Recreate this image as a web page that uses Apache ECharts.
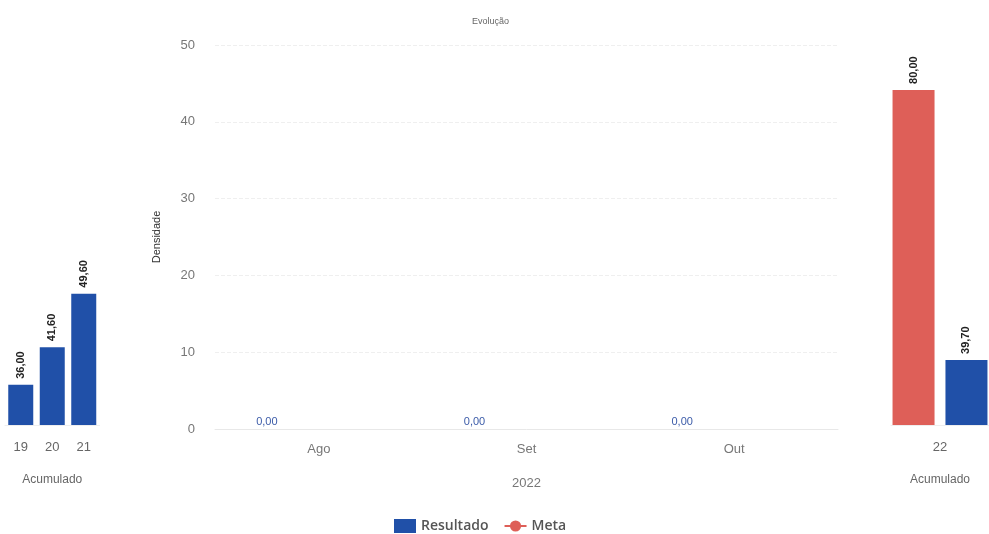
<!DOCTYPE html>
<html>
<head>
<meta charset="utf-8">
<script src="https://cdn.jsdelivr.net/npm/echarts@6/dist/echarts.min.js"></script>
<style>
html,body{margin:0;padding:0;background:#fff;}
#c{width:989px;height:534px;}
</style>
</head>
<body>
<div id="c"></div>
<script>
const leftCats = ['19', '20', '21'];
const leftResultado = [36.00, 41.60, 49.60];
const mainCats = ['Ago', 'Set', 'Out'];
const mainResultado = [0, 0, 0];
const mainMeta = ['-', '-', '-'];
const rightCats = ['22'];
const rightMeta = [80.00];
const rightResultado = [39.70];
const mainYTicks = [0, 10, 20, 30, 40, 50];

const BLUE = '#2050a8';
const RED = '#de5f58';
const fmt = v => v.toFixed(2).replace('.', ',');

const sideLabel = {
  show: true, position: 'top', rotate: 90, align: 'left', verticalAlign: 'middle',
  distance: 6, fontSize: 11, fontWeight: 'bold', color: '#222', fontFamily: 'Liberation Sans',
  formatter: p => fmt(p.value)
};

const chart = echarts.init(document.getElementById('c'));
chart.setOption({
  animation: false,
  textStyle: { fontFamily: 'Liberation Sans' },
  title: { text: 'Evolução', left: 467, top: 12, textStyle: { fontSize: 9, fontWeight: 'normal', color: '#666' } },
  legend: {
    left: 389, top: 514, itemWidth: 22, itemHeight: 14, itemGap: 15,
    textStyle: { fontSize: 14, fontWeight: 600, color: '#555', fontFamily: 'Open Sans' },
    data: [{ name: 'Resultado', icon: 'rect' }, { name: 'Meta' }]
  },
  grid: [
    { left: 5, width: 94.5, top: 45, bottom: 109 },
    { left: 215, right: 151, top: 45, bottom: 105 },
    { left: 891, width: 98, top: 45, bottom: 109 }
  ],
  xAxis: [
    { gridIndex: 0, type: 'category', data: leftCats,
      axisLine: { lineStyle: { color: '#eeeeee' } }, axisTick: { show: false },
      axisLabel: { color: '#666', fontSize: 13, margin: 16 },
      name: 'Acumulado', nameLocation: 'middle', nameGap: 49, nameTextStyle: { color: '#666', fontSize: 12 } },
    { gridIndex: 1, type: 'category', data: mainCats,
      axisLine: { lineStyle: { color: '#e8e8e8' } }, axisTick: { show: false },
      axisLabel: { color: '#777', fontSize: 13, margin: 14 },
      name: '2022', nameLocation: 'middle', nameGap: 48, nameTextStyle: { color: '#777', fontSize: 13 } },
    { gridIndex: 2, type: 'category', data: rightCats,
      axisLine: { lineStyle: { color: '#eeeeee' } }, axisTick: { show: false },
      axisLabel: { color: '#666', fontSize: 13, margin: 16 },
      name: 'Acumulado', nameLocation: 'middle', nameGap: 49, nameTextStyle: { color: '#666', fontSize: 12 } }
  ],
  yAxis: [
    { gridIndex: 0, type: 'value', min: 30, max: 86.7, show: false },
    { gridIndex: 1, type: 'value', min: mainYTicks[0], max: mainYTicks[mainYTicks.length - 1], interval: 10,
      axisLine: { show: false }, axisTick: { show: false },
      axisLabel: { color: '#777', fontSize: 13, margin: 20 },
      splitLine: { lineStyle: { color: '#efefef', type: 'dashed' } },
      name: 'Densidade', nameLocation: 'middle', nameGap: 53, nameRotate: 90,
      nameTextStyle: { color: '#333', fontSize: 11 } },
    { gridIndex: 2, type: 'value', min: 30, max: 86.7, show: false }
  ],
  series: [
    { name: 'Resultado', type: 'bar', xAxisIndex: 0, yAxisIndex: 0, data: leftResultado,
      barWidth: 25, itemStyle: { color: BLUE }, label: sideLabel },
    { name: 'Resultado', type: 'bar', xAxisIndex: 1, yAxisIndex: 1, data: mainResultado,
      barWidth: 20, itemStyle: { color: BLUE },
      label: { show: true, position: 'top', offset: [-52, 0], distance: 2, fontSize: 11, color: '#3b5ba8',
        formatter: p => fmt(p.value) } },
    { name: 'Meta', type: 'line', xAxisIndex: 1, yAxisIndex: 1, data: mainMeta,
      symbol: 'circle', symbolSize: 6, itemStyle: { color: RED }, lineStyle: { color: RED, width: 2 } },
    { name: 'Meta', type: 'bar', xAxisIndex: 2, yAxisIndex: 2, data: rightMeta,
      barWidth: 42, barGap: '26%', itemStyle: { color: RED }, label: sideLabel },
    { name: 'Resultado', type: 'bar', xAxisIndex: 2, yAxisIndex: 2, data: rightResultado,
      barWidth: 42, barGap: '26%', itemStyle: { color: BLUE }, label: sideLabel }
  ]
});
</script>
</body>
</html>
